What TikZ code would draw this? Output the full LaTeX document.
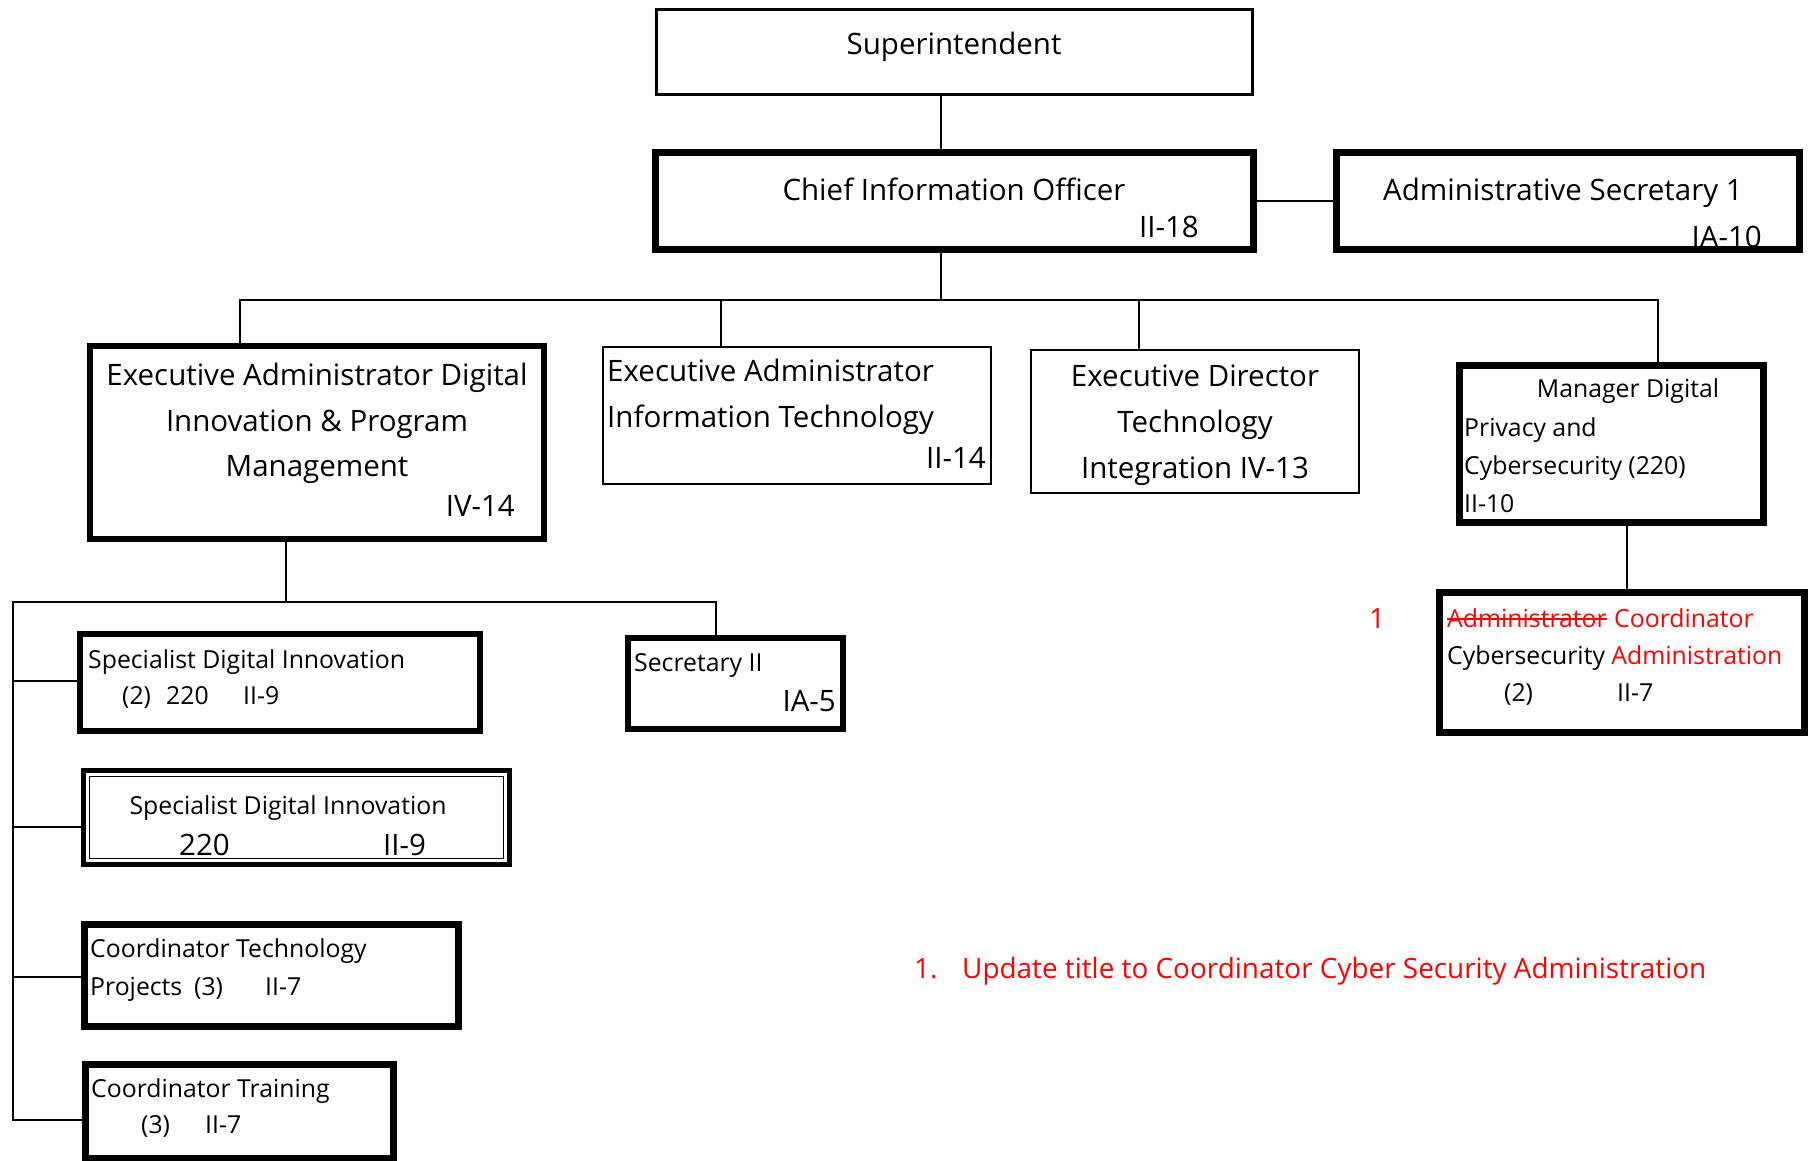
\documentclass[tikz,border=0pt]{standalone}
\usepackage{fontspec}
\setmainfont{Open Sans}
\usepackage{xcolor}
\usepackage{tikz}
\usetikzlibrary{calc}
\definecolor{linec}{HTML}{000000}
\definecolor{notec}{HTML}{FF0000}
\newcommand{\fbig}{\fontsize{29.5}{34}\selectfont}
\newcommand{\fsml}{\fontsize{24.8}{30}\selectfont}
\newcommand{\fnote}{\fontsize{27.9}{33}\selectfont}
\tikzset{
  ln/.style={line width=1.4pt,linec},
  obox/.style={draw=linec,line width=#1,inner sep=0pt,outer sep=0pt},
  tb/.style={inner sep=0pt,font=\fbig},
  ts/.style={inner sep=0pt,font=\fsml},
  tn/.style={inner sep=0pt,font=\fsml,text=notec}
}

\begin{document}
\begin{tikzpicture}[x=1pt,y=-1pt]
\useasboundingbox (0,0) rectangle (1808,1160);
% texts
\node[tb,anchor=base] (t-sup) at (954,54) {Superintendent};
\node[tb,anchor=base] (t-cio) at (954,200) {Chief Information Officer};
\node[tb,anchor=base east] (g-cio) at (1199,237) {II-18};
\node[tb,anchor=base west] (t-asec) at (1383,200) {Administrative Secretary 1};
\node[tb,anchor=base east] (g-asec) at (1762,247) {IA-10};
\node[tb,anchor=base] (t-eadig1) at (317,385) {Executive Administrator Digital};
\node[tb,anchor=base] (t-eadig2) at (317,431) {Innovation \& Program};
\node[tb,anchor=base] (t-eadig3) at (317,476) {Management};
\node[tb,anchor=base east] (g-eadig) at (515,516) {IV-14};
\node[tb,anchor=base west] (t-eait1) at (607,381) {Executive Administrator};
\node[tb,anchor=base west] (t-eait2) at (607,427) {Information Technology};
\node[tb,anchor=base east] (g-eait) at (986,468) {II-14};
\node[tb,anchor=base] (t-edt1) at (1195,386) {Executive Director};
\node[tb,anchor=base] (t-edt2) at (1195,432) {Technology};
\node[tb,anchor=base] (t-edt3) at (1195,478) {Integration IV-13};
\node[ts,anchor=base] (t-mgr1) at (1628,397) {Manager Digital};
\node[ts,anchor=base west] (t-mgr2) at (1464,436) {Privacy and};
\node[ts,anchor=base west] (t-mgr3) at (1464,474) {Cybersecurity (220)};
\node[ts,anchor=base west] (g-mgr) at (1464,512) {II-10};
\node[tn,font=\fnote,anchor=base west] (t-one) at (1369,628) {1};
\node[tn,anchor=base west] (t-cc1a) at (1447,627) {Administrator};
\node[tn,anchor=base west] (t-cc1b) at ($(t-cc1a.base east)+(7,0)$) {Coordinator};
\draw[notec,line width=1.6pt] ($(t-cc1a.base west)+(0,-8)$) -- ($(t-cc1a.base east)+(0,-8)$);
\node[ts,anchor=base west] (t-cc2) at (1447,664) {Cybersecurity \textcolor{notec}{Administration}};
\node[ts,anchor=base west] (n-cc) at (1504,701) {(2)};
\node[ts,anchor=base west] (g-cc) at (1617,701) {II-7};
\node[ts,anchor=base west] (t-sp1) at (88,668) {Specialist Digital Innovation};
\node[ts,anchor=base west] (n-sp1) at (122,704) {(2)};
\node[ts,anchor=base west] (c-sp1) at (166,704) {220};
\node[ts,anchor=base west] (g-sp1) at (243,704) {II-9};
\node[ts,anchor=base west] (t-sec) at (634,671) {Secretary II};
\node[tb,anchor=base east] (g-sec) at (836,711) {IA-5};
\node[ts,anchor=base] (t-sp2) at (288,814) {Specialist Digital Innovation};
\node[tb,anchor=base west] (c-sp2) at (179,855) {220};
\node[tb,anchor=base west] (g-sp2) at (383,855) {II-9};
\node[ts,anchor=base west] (t-ct1) at (90,957) {Coordinator Technology};
\node[ts,anchor=base west] (t-ct2) at (90,995) {Projects};
\node[ts,anchor=base west] (n-ct) at (194,995) {(3)};
\node[ts,anchor=base west] (g-ct) at (265,995) {II-7};
\node[ts,anchor=base west] (t-tr) at (91,1097) {Coordinator Training};
\node[ts,anchor=base west] (n-tr) at (141,1133) {(3)};
\node[ts,anchor=base west] (g-tr) at (205,1133) {II-7};
\node[tn,font=\fnote,anchor=base west] (t-n1) at (914,978) {1.};
\node[tn,font=\fnote,anchor=base west] (t-n2) at (962,978) {Update title to Coordinator Cyber Security Administration};
% boxes
\node[obox=3.5pt,minimum width=596,minimum height=85] (sup) at (954.5,52) {};
\node[obox=7pt,minimum width=598,minimum height=97] (cio) at (954.5,201) {};
\node[obox=7pt,minimum width=463,minimum height=97] (asec) at (1568,201) {};
\node[obox=6pt,minimum width=454,minimum height=193] (eadig) at (317,442.5) {};
\node[obox=2pt,minimum width=388,minimum height=137] (eait) at (796.5,415) {};
\node[obox=2.5pt,minimum width=328,minimum height=143] (edtech) at (1195,421.5) {};
\node[obox=7pt,minimum width=304,minimum height=157] (mgr) at (1611.5,444) {};
\node[obox=7pt,minimum width=365,minimum height=140] (ccyber) at (1622,662.5) {};
\node[obox=6pt,minimum width=400,minimum height=97] (spec1) at (280,682.5) {};
\node[obox=6pt,minimum width=215,minimum height=91] (sec2) at (735.5,683.5) {};
\node[obox=5pt,minimum width=426,minimum height=94] (spec2) at (296.5,817.5) {};
\node[obox=7pt,minimum width=374,minimum height=102] (ctech) at (271.5,975.5) {};
\node[obox=7pt,minimum width=308,minimum height=94] (ctrain) at (239.5,1111.5) {};
\draw[line width=1.4pt] ([shift={(6,6)}]spec2.north west) rectangle ([shift={(-6,-6)}]spec2.south east);
% connectors
\coordinate (trunk) at (941,300);
\coordinate (b1) at (240,300);
\coordinate (b2) at (721,300);
\coordinate (b3) at (1139,300);
\coordinate (b4) at (1658,300);
\coordinate (m1) at (1627,0);
\coordinate (d1) at (286,602);
\coordinate (r0) at (13,602);
\coordinate (r1) at (716,602);
\coordinate (k1) at (13,681);
\coordinate (k2) at (13,827);
\coordinate (k3) at (13,977);
\coordinate (k4) at (13,1120);
\draw[ln] (sup.south -| trunk) -- (cio.north -| trunk);
\draw[ln] (cio.east) -- (asec.west);
\draw[ln] (cio.south -| trunk) -- (trunk);
\draw[ln] (b1 |- eadig.north) -- (b1) -- (b4) -- (b4 |- mgr.north);
\draw[ln] (b2) -- (b2 |- eait.north);
\draw[ln] (b3) -- (b3 |- edtech.north);
\draw[ln] (mgr.south -| m1) -- (ccyber.north -| m1);
\draw[ln] (eadig.south -| d1) -- (d1);
\draw[ln] (r1 |- sec2.north) -- (r1) -- (r0) -- (k4) -- (k4 -| ctrain.west);
\draw[ln] (k1) -- (k1 -| spec1.west);
\draw[ln] (k2) -- (k2 -| spec2.west);
\draw[ln] (k3) -- (k3 -| ctech.west);
\end{tikzpicture}
\end{document}
